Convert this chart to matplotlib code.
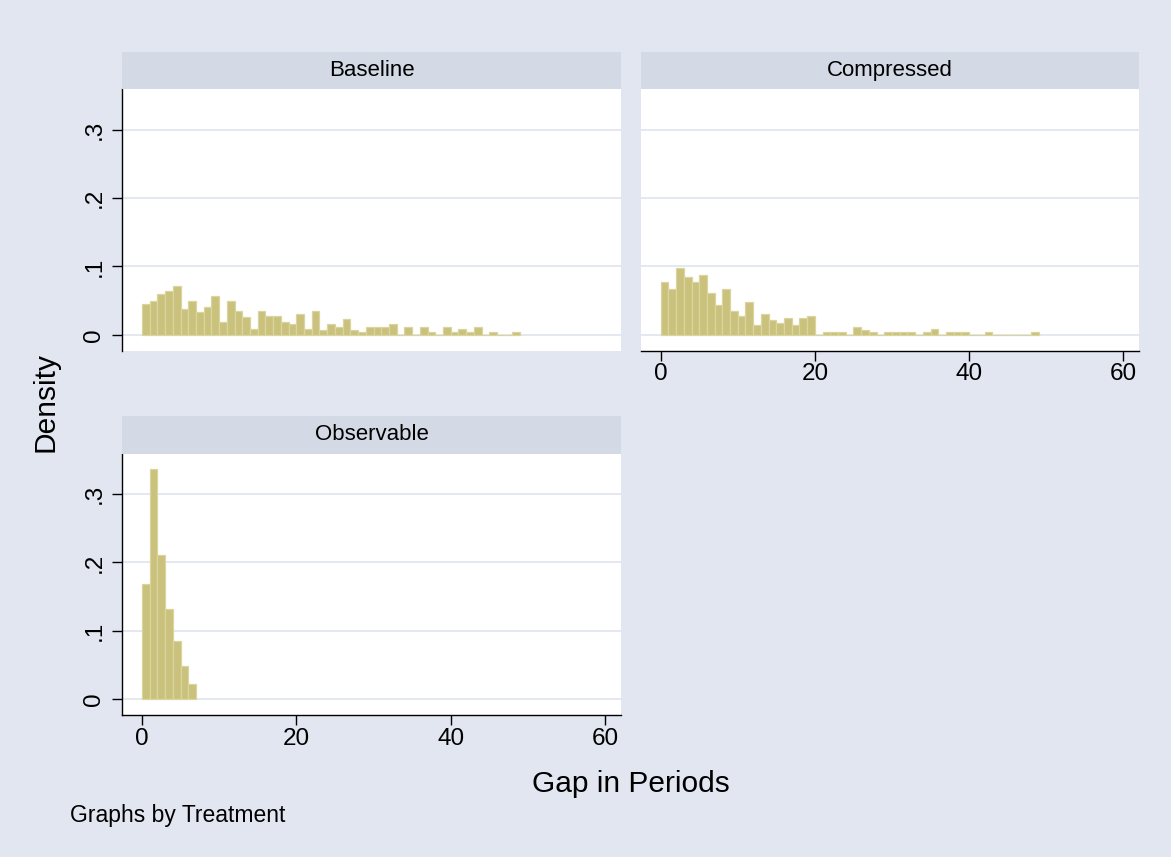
import matplotlib
matplotlib.use('Agg')
import matplotlib.pyplot as plt

plt.rcParams['font.family'] = ['Liberation Sans', 'DejaVu Sans']

# ---- data (density per 1-period bin, bins start at 0) ----
panel_titles = ['Baseline', 'Compressed', 'Observable']
baseline_density = [0.0449, 0.0488, 0.0595, 0.0634, 0.0707, 0.0371, 0.0488, 0.0337,
                    0.0410, 0.0561, 0.0190, 0.0488, 0.0341, 0.0263, 0.0078, 0.0341,
                    0.0268, 0.0268, 0.0190, 0.0151, 0.0302, 0.0078, 0.0341, 0.0073,
                    0.0156, 0.0112, 0.0229, 0.0073, 0.0039, 0.0117, 0.0112, 0.0112,
                    0.0156, 0.0, 0.0112, 0.0, 0.0112, 0.0039, 0.0, 0.0112,
                    0.0039, 0.0083, 0.0039, 0.0112, 0.0, 0.0039, 0.0, 0.0, 0.0039]
compressed_density = [0.0776, 0.0673, 0.0976, 0.0839, 0.0771, 0.0878, 0.0610, 0.0439,
                      0.0673, 0.0341, 0.0268, 0.0478, 0.0137, 0.0307, 0.0210, 0.0171,
                      0.0244, 0.0137, 0.0239, 0.0273, 0.0, 0.0040, 0.0040, 0.0040,
                      0.0, 0.0112, 0.0073, 0.0040, 0.0, 0.0040, 0.0040, 0.0040,
                      0.0040, 0.0, 0.0040, 0.0078, 0.0, 0.0040, 0.0040, 0.0040,
                      0.0, 0.0, 0.0040, 0.0, 0.0, 0.0, 0.0, 0.0, 0.0040]
observable_density = [0.169, 0.337, 0.211, 0.132, 0.085, 0.048, 0.022]
bin_width = 1
x_ticks = [0, 20, 40, 60]
x_tick_labels = ['0', '20', '40', '60']
y_ticks = [0, 0.1, 0.2, 0.3]
y_tick_labels = ['0', '.1', '.2', '.3']
x_title = 'Gap in Periods'
y_title = 'Density'
note_text = 'Graphs by Treatment'

# ---- style ----
BG = '#E1E6F0'
STRIP = '#D3D9E5'
GRID = '#E1E6F0'
BAR_FACE = '#C9C17C'
BAR_EDGE = '#DAD59E'
W, H = 1171, 857

fig = plt.figure(figsize=(W / 100, H / 100), dpi=100)
fig.patch.set_facecolor(BG)


def px_axes(x0, y0, x1, y1):
    return fig.add_axes([x0 / W, 1 - y1 / H, (x1 - x0) / W, (y1 - y0) / H])


plot_rects = {
    'Baseline': (122.3, 89.0, 621.0, 350.7),
    'Compressed': (641.0, 89.0, 1139.3, 350.7),
    'Observable': (122.3, 453.5, 621.0, 715.0),
}
strip_h = 37.0
data_map = {'Baseline': baseline_density,
            'Compressed': compressed_density,
            'Observable': observable_density}
show_y = {'Baseline': True, 'Compressed': False, 'Observable': True}
show_x = {'Baseline': False, 'Compressed': True, 'Observable': True}

for name in panel_titles:
    x0, y0, x1, y1 = plot_rects[name]
    ax = px_axes(x0, y0, x1, y1)
    ax.set_facecolor('white')
    vals = data_map[name]
    lefts = [i * bin_width for i in range(len(vals))]
    ax.bar(lefts, vals, width=bin_width, align='edge', color=BAR_FACE,
           edgecolor=BAR_EDGE, linewidth=0.9, zorder=3)
    ax.set_xlim(-2.55, 62.07)
    ax.set_ylim(-0.0234, 0.3596)
    ax.set_yticks(y_ticks)
    ax.yaxis.grid(True, color=GRID, linewidth=1.3, zorder=0)
    ax.set_axisbelow(True)
    for s in ['top', 'right']:
        ax.spines[s].set_visible(False)
    ax.spines['left'].set_visible(show_y[name])
    ax.spines['bottom'].set_visible(show_x[name])
    for s in ['left', 'bottom']:
        ax.spines[s].set_linewidth(1.0)
        ax.spines[s].set_color('black')
    if show_y[name]:
        ax.set_yticklabels(y_tick_labels, rotation=90, va='center')
        ax.tick_params(axis='y', length=7.2, width=1.0, pad=5, labelsize=17.5)
    else:
        ax.tick_params(axis='y', length=0, labelleft=False)
    if show_x[name]:
        ax.set_xticks(x_ticks)
        ax.set_xticklabels(x_tick_labels)
        ax.tick_params(axis='x', length=7.2, width=1.0, pad=2, labelsize=17.5)
    else:
        ax.set_xticks([])
    # strip
    sax = px_axes(x0, y0 - strip_h, x1, y0)
    sax.set_facecolor(STRIP)
    sax.set_xticks([])
    sax.set_yticks([])
    for s in sax.spines.values():
        s.set_visible(False)
    sax.text(0.5, 0.5, name, ha='center', va='center', fontsize=16,
             transform=sax.transAxes)

fig.text(630.8 / W, 1 - 791.7 / H, x_title, ha='center', va='baseline', fontsize=21.5)
fig.text(45 / W, 1 - 401.6 / H, y_title, ha='center', va='center', rotation=90,
         fontsize=21.5)
fig.text(70 / W, 1 - 821.7 / H, note_text, ha='left', va='baseline', fontsize=16.5)

fig.savefig('out.png', dpi=100, facecolor=BG)
